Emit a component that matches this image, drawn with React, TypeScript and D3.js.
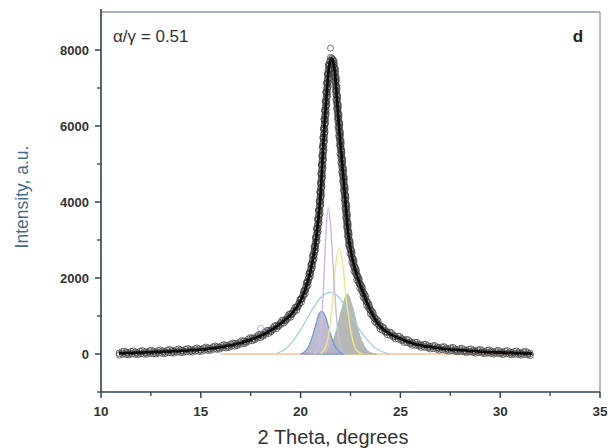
import React, { useEffect, useRef, useState } from "react";
import * as d3 from "d3";

// ---- data ----
const fitX = [10.9, 12, 13, 14, 15, 16, 17, 17.5, 18, 18.5, 19, 19.5, 20, 20.3, 20.6, 20.8, 21.0, 21.15, 21.3, 21.45, 21.56, 21.7, 21.85, 22.0, 22.2, 22.4, 22.6, 22.8, 23.0, 23.5, 24, 24.5, 25, 25.5, 26, 26.5, 27, 28, 29, 30, 31, 31.6];
const fitY = [20, 35, 55, 80, 115, 180, 290, 380, 480, 620, 800, 1030, 1400, 1800, 2450, 3100, 4200, 5600, 6800, 7650, 7780, 7500, 6500, 5500, 4300, 3100, 2500, 2100, 1800, 1150, 720, 520, 400, 300, 230, 185, 150, 100, 65, 40, 20, 10];

const peak1X = [20.0, 20.1, 20.4, 20.7, 20.9, 21.06, 21.25, 21.45, 21.7, 22.0, 22.3];
const peak1Y = [0, 20, 200, 650, 1020, 1120, 980, 600, 230, 40, 0];

const peak2X = [21.0, 21.2, 21.5, 21.8, 22.05, 22.34, 22.6, 22.9, 23.2, 23.5, 23.8];
const peak2Y = [0, 20, 200, 620, 1150, 1580, 1230, 600, 200, 40, 0];

const broadX = [18.8, 19.2, 19.6, 20.0, 20.5, 21.0, 21.45, 21.9, 22.4, 22.9, 23.4, 23.8, 24.2, 24.5];
const broadY = [20, 120, 330, 640, 1100, 1480, 1620, 1500, 1120, 680, 330, 140, 40, 0];

const narrowX = [20.7, 20.9, 21.05, 21.15, 21.25, 21.38, 21.5, 21.62, 21.75, 21.9, 22.1, 22.3];
const narrowY = [0, 200, 900, 1800, 3000, 3850, 3400, 2400, 1300, 450, 50, 0];

const yellowX = [21.0, 21.3, 21.55, 21.75, 21.92, 22.1, 22.3, 22.55, 22.8, 23.1];
const yellowY = [0, 250, 1100, 2300, 2800, 2400, 1400, 500, 100, 0];

const baseX = [16, 31];
const baseY = [0, 0];

const xTicks = [10, 15, 20, 25, 30, 35];
const xMinor = [12.5, 17.5, 22.5, 27.5, 32.5];
const yTicks = [0, 2000, 4000, 6000, 8000];
const yMinor = [-1000, 1000, 3000, 5000, 7000];

const ratioLabel = "α/γ = 0.51";
const panelLabel = "d";
const xTitle = "2 Theta, degrees";
const yTitle = "Intensity, a.u.";

const W = 610, H = 448;
const L = 101, R = 600, T = 12, B = 392;

export default function App() {
  const x = d3.scaleLinear().domain([10, 35]).range([L, R]);
  const y = d3.scaleLinear().domain([-1000, 9000]).range([B, T]);
  const zip = (xs: number[], ys: number[]) => xs.map((v, i) => [v, ys[i]] as [number, number]);
  const line = d3.line<[number, number]>().x(d => x(d[0])).y(d => y(d[1])).curve(d3.curveMonotoneX);
  const area = d3.area<[number, number]>().x(d => x(d[0])).y0(y(0)).y1(d => y(d[1])).curve(d3.curveMonotoneX);

  const fitRef = useRef<SVGPathElement>(null);
  const [marks, setMarks] = useState<[number, number][]>([]);
  useEffect(() => {
    const p = fitRef.current;
    if (!p) return;
    const len = p.getTotalLength();
    const pts: [number, number][] = [];
    for (let s = 0; s <= len; s += 1.3) {
      const q = p.getPointAtLength(s);
      pts.push([q.x, q.y]);
    }
    setMarks(pts);
  }, []);

  const font = "Arial, 'Liberation Sans', sans-serif";
  const jit = [0, 1.6, -1.2, 0.8, -1.8, 1.2, -0.6];
  return (
    <svg width={W} height={H} style={{ position: "absolute", left: 0, top: 0, background: "#fff" }}>
      {/* frame */}
      <line x1={L} x2={R} y1={T} y2={T} stroke="#8a9aa8" strokeWidth={1.3} />
      <line x1={R} x2={R} y1={T} y2={B} stroke="#8a9aa8" strokeWidth={1.3} />

      {/* components */}
      <path d={line(zip(baseX, baseY)) || ""} fill="none" stroke="#f3c29a" strokeWidth={1.5} />
      <path d={area(zip(peak2X, peak2Y)) || ""} fill="#a9aba8" fillOpacity={0.85} stroke="#9fc39a" strokeWidth={1} />
      <path d={area(zip(peak1X, peak1Y)) || ""} fill="#b5b0c8" fillOpacity={0.85} stroke="#6a98da" strokeWidth={1.2} />
      <path d={line(zip(broadX, broadY)) || ""} fill="none" stroke="#9ccbee" strokeWidth={1.2} />
      <path d={line(zip(yellowX, yellowY)) || ""} fill="none" stroke="#f0e58c" strokeWidth={1.4} />
      <path d={line(zip(narrowX, narrowY)) || ""} fill="none" stroke="#cdb8e6" strokeWidth={1.4} />

      {/* data markers along the fitted profile */}
      <g fill="none" stroke="#3a3a3a" strokeWidth={1} strokeOpacity={0.7}>
        {marks.map((m, i) => (
          <circle key={i} cx={m[0] + jit[(i + 3) % 7] * 0.4} cy={m[1] + jit[i % 7]} r={3.3} />
        ))}
        <circle cx={x(21.5)} cy={y(8050)} r={3} />
        <circle cx={x(18.0)} cy={y(680)} r={3} stroke="#8aa0c8" />
      </g>
      <path ref={fitRef} d={line(zip(fitX, fitY)) || ""} fill="none" stroke="#0d0d0d" strokeWidth={2.8} />

      {/* axes */}
      <line x1={L} x2={L} y1={T - 3} y2={B} stroke="#2e4252" strokeWidth={1.6} />
      <line x1={L} x2={R} y1={B} y2={B} stroke="#2e4252" strokeWidth={1.6} />
      {xTicks.map(t => (
        <g key={"xt" + t}>
          <line x1={x(t)} x2={x(t)} y1={B} y2={B + 6} stroke="#2e4252" strokeWidth={1.5} />
          <text x={x(t)} y={B + 24} textAnchor="middle" fontFamily={font} fontWeight="bold" fontSize={13.5} fill="#333">{t}</text>
        </g>
      ))}
      {xMinor.map(t => (
        <line key={"xm" + t} x1={x(t)} x2={x(t)} y1={B} y2={B + 4} stroke="#2e4252" strokeWidth={1.3} />
      ))}
      {yTicks.map(t => (
        <g key={"yt" + t}>
          <line x1={L - 6} x2={L} y1={y(t)} y2={y(t)} stroke="#2e4252" strokeWidth={1.5} />
          <text x={L - 12} y={y(t) + 5} textAnchor="end" fontFamily={font} fontWeight="bold" fontSize={13} fill="#333">{t}</text>
        </g>
      ))}
      {yMinor.map(t => (
        <line key={"ym" + t} x1={L - 4} x2={L} y1={y(t)} y2={y(t)} stroke="#2e4252" strokeWidth={1.3} />
      ))}

      {/* texts */}
      <text x={113} y={42} fontFamily={font} fontSize={17} fill="#333">{ratioLabel}</text>
      <text x={578} y={42} textAnchor="middle" fontFamily={font} fontWeight="bold" fontSize={17} fill="#222">{panelLabel}</text>
      <text x={333} y={444} textAnchor="middle" fontFamily={font} fontSize={20} fill="#333">{xTitle}</text>
      <text transform={`translate(28, 197) rotate(-90)`} textAnchor="middle" fontFamily={font} fontSize={17.5} fill="#4a6a8a">{yTitle}</text>
    </svg>
  );
}
